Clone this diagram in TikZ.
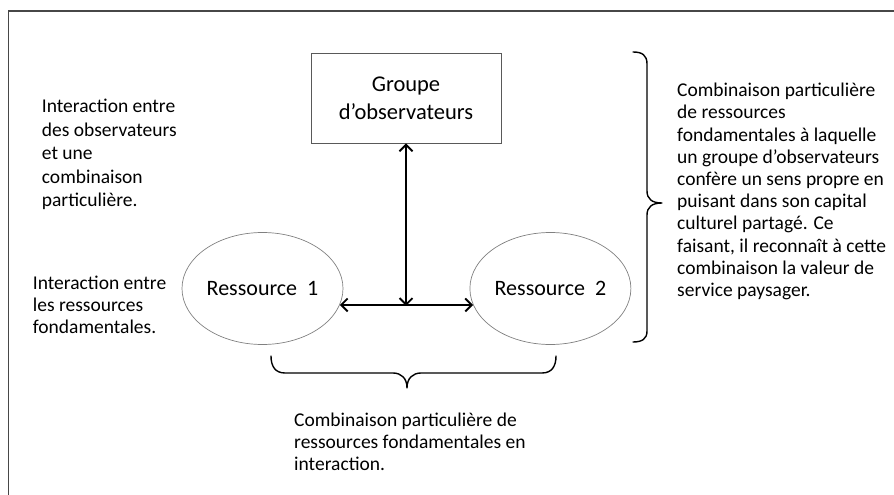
\documentclass[tikz,border=0pt]{standalone}
\usepackage{fontspec}
\setmainfont{Carlito}
\usetikzlibrary{arrows.meta,shapes.geometric}

\tikzset{
  frameline/.style={draw=black!72, line width=1.3pt},
  groupbox/.style={draw=black!65, line width=0.9pt, minimum width=190pt, minimum height=90pt,
    inner sep=0pt, align=center, font=\fontsize{22.5}{27.6}\selectfont},
  resource/.style={ellipse, draw=black!50, line width=0.7pt, minimum width=161pt,
    minimum height=112pt, inner sep=0pt, font=\fontsize{22}{26}\selectfont},
  link/.style={line width=1.9pt, {Straight Barb[length=6.5pt,width=13pt,line width=1.9pt]}-{Straight Barb[length=6.5pt,width=13pt,line width=1.9pt]}},
  bracepath/.style={line width=1.4pt, line cap=round, line join=round},
  note/.style={anchor=north west, inner sep=0pt, align=left,
    font=\fontsize{19.5}{21.7}\selectfont},
  widenote/.style={note, font=\fontsize{19.5}{23.5}\selectfont},
  sidenote/.style={note, font=\fontsize{19.5}{22.2}\selectfont}
}

\begin{document}
\begin{tikzpicture}[x=1pt,y=-1pt]
  \useasboundingbox (0,0) rectangle (894,495);

  % outer frame: top and left edges only
  \coordinate (fr) at (894,11);
  \coordinate (fc) at (8.3,11);
  \coordinate (fb) at (8.3,495);
  \draw[frameline] (fr) -- (fc) -- (fb);

  % main elements
  \node[groupbox] (grp) at (406,98) {Groupe\\d’observateurs};
  \node[resource] (r1) at (262.5,288.5) {Ressource\ \ 1};
  \node[resource] (r2) at (550.4,288.5) {Ressource\ \ 2};

  % links between resources and the observer group
  \draw[link] (r1.-12.5) -- (r2.192.5);
  \coordinate (j) at (grp.south |- r1.-12.5);
  \draw[link] (grp.south) -- ([yshift=-1pt]j);

  % right brace
  \draw[bracepath] (633,52) .. controls (642,52) and (647,55) .. (647,64)
    -- (647,191) .. controls (647,199) and (652,203) .. (662,203)
    .. controls (652,203) and (647,207) .. (647,215)
    -- (647,331) .. controls (647,339) and (642,342) .. (633,342);

  % bottom brace
  \draw[bracepath] (271,356) .. controls (271,366) and (275,373) .. (285,373)
    -- (393,373) .. controls (401,373) and (407,378) .. (407,388)
    .. controls (407,378) and (413,373) .. (421,373)
    -- (542,373) .. controls (552,373) and (556,366) .. (556,356);

  % explanatory texts
  \node[widenote] (t1) at (41.7,99) {Interaction entre\\des observateurs\\et une\\combinaison\\particulière.};
  \node[note] (t2) at (32.7,276) {Interaction entre\\les ressources\\fondamentales.};
  \node[sidenote] (t3) at (677,83) {Combinaison particulière\\de ressources\\fondamentales à laquelle\\un groupe d’observateurs\\confère un sens propre en\\puisant dans son capital\\culturel partagé. Ce\\faisant, il reconnaît à cette\\combinaison la valeur de\\service paysager.};
  \node[note] (t4) at (294,413) {Combinaison particulière de\\ressources fondamentales en\\interaction.};
\end{tikzpicture}
\end{document}
